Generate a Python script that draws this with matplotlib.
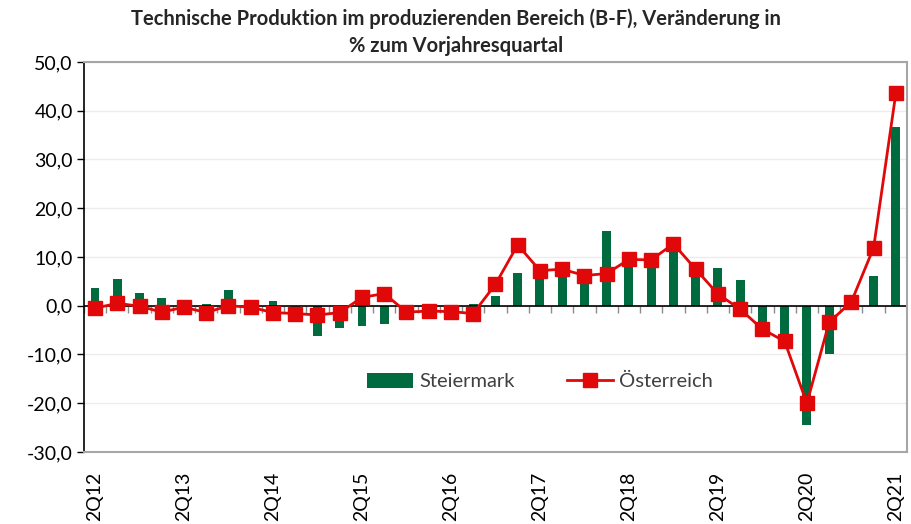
import numpy as np
import matplotlib.pyplot as plt

plt.rcParams['font.family'] = ['Lato', 'DejaVu Sans']

# quarters 2Q12 .. 2Q21
quartale = []
for j in range(12, 22):
    for q in (1, 2, 3, 4):
        if (j == 12 and q < 2) or (j == 21 and q > 2):
            continue
        quartale.append(f'{q}Q{j}')

steiermark = [3.6, 5.5, 2.6, 1.5, -0.2, 0.4, 3.3, 0.2, 0.9, -0.8,
              -6.2, -4.6, -4.1, -3.8, -0.6, -0.4, -0.3, 0.3, 2.1, 6.8,
              6.8, 6.5, 5.5, 15.4, 9.0, 8.5, 11.5, 7.0, 7.7, 5.3,
              -3.7, -6.1, -24.4, -10.0, -0.5, 6.0, 36.6]
oesterreich = [-0.5, 0.5, -0.1, -1.3, -0.3, -1.4, 0.0, -0.3, -1.4, -1.6,
               -1.9, -1.4, 1.7, 2.5, -1.3, -1.1, -1.2, -1.6, 4.4, 12.5,
               7.2, 7.5, 6.2, 6.6, 9.5, 9.4, 12.7, 7.5, 2.4, -0.7,
               -4.8, -7.3, -20.0, -3.4, 0.8, 11.9, 43.6]

gruen = '#006b3f'
rot = '#e00808'

fig = plt.figure(figsize=(9.12, 5.24), dpi=100)
ax = fig.add_axes([0.092, 0.1374, 0.9025, 0.7443])

x = np.arange(len(quartale))
bars = ax.bar(x, steiermark, width=0.4, color=gruen, label='Steiermark', zorder=2)
linie, = ax.plot(x, oesterreich, color=rot, lw=2.0, marker='s', markersize=10.5,
                 label='Österreich', zorder=3)

ax.axhline(0, color='black', lw=1.2, zorder=2.5)
ax.vlines(np.arange(len(quartale) + 1) - 0.5, -1.5, 0, color='#8c8c8c', lw=1, zorder=1)

ax.set_xlim(-0.5, len(quartale) - 0.5)
ax.set_ylim(-30, 50)
yt = np.arange(-30, 51, 10)
ax.set_yticks(yt)
ax.set_yticklabels([f'{v:.1f}'.replace('.', ',') for v in yt], fontsize=14)
ax.tick_params(axis='y', length=5, width=1, color='black', pad=3)
ax.yaxis.grid(True, color='#ececec', lw=1, zorder=0)
ax.set_axisbelow(True)

xt = x[::4]
ax.set_xticks(xt)
ax.set_xticklabels([quartale[i] for i in xt], rotation=90, fontsize=14)
ax.tick_params(axis='x', length=0, pad=14)

for s in ('top', 'right', 'bottom'):
    ax.spines[s].set_color('#a6a6a6')
    ax.spines[s].set_linewidth(1.5)
ax.spines['left'].set_color('black')
ax.spines['left'].set_linewidth(1.2)

ax.legend([bars, linie], ['Steiermark', 'Österreich'], loc='center',
          bbox_to_anchor=(0.554, 0.18), ncol=2, frameon=False,
          fontsize=14.5, handlelength=2.3, handleheight=0.75, columnspacing=2.6,
          handletextpad=0.3, labelcolor='#404040')

fig.text(0.5, 0.965, 'Technische Produktion im produzierenden Bereich (B-F), Veränderung in',
         ha='center', va='center', fontsize=14.5, fontweight='bold', color='#262626')
fig.text(0.5, 0.913, '% zum Vorjahresquartal',
         ha='center', va='center', fontsize=14.5, fontweight='bold', color='#262626')

fig.savefig('out.png', dpi=100)
